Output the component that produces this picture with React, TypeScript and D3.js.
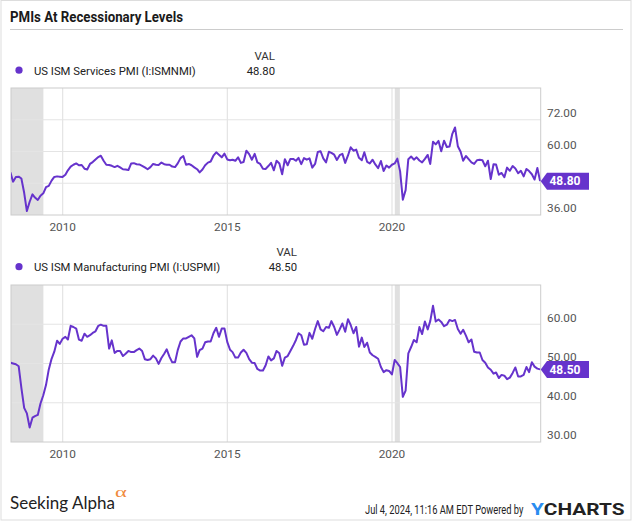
import React from "react";
import * as d3 from "d3";

// ---- data (monthly, May 2008 – Jun 2024, dated at month end) ----
const startYear = 2008;
const startMonthIndex = 4; // May (0-based)

const servicesPMI: number[] = [
  // 2008 May-Dec
  52.1, 48.6, 50.4, 50.5, 49.8, 44.4, 37.5, 41.0,
  // 2009
  43.8, 42.6, 41.7, 43.3, 44.2, 46.5, 47.0, 49.0, 50.4, 50.6, 50.5, 50.4,
  // 2010
  51.2, 52.9, 54.3, 55.0, 55.5, 54.8, 54.9, 53.5, 53.2, 55.3, 56.0, 57.0,
  // 2011
  57.9, 58.4, 56.5, 55.0, 54.9, 54.6, 54.1, 54.6, 54.0, 53.3, 53.2, 53.0,
  // 2012
  55.5, 55.6, 55.2, 55.1, 54.6, 54.0, 53.3, 54.1, 55.3, 55.0, 54.9, 55.8,
  // 2013
  55.2, 55.0, 55.0, 54.3, 54.1, 55.5, 57.5, 58.3, 55.0, 55.3, 54.8, 54.0,
  // 2014
  53.3, 52.1, 53.2, 54.8, 55.8, 56.2, 58.4, 59.7, 58.8, 57.8, 59.2, 57.0,
  // 2015
  56.7, 56.9, 56.5, 57.8, 55.7, 56.0, 60.3, 59.0, 56.9, 59.1, 55.9, 55.3,
  // 2016
  53.5, 53.4, 54.5, 55.7, 52.9, 56.5, 55.5, 51.4, 57.1, 54.8, 57.2, 57.2,
  // 2017
  56.5, 57.6, 55.2, 57.5, 56.9, 57.4, 53.9, 55.3, 59.8, 60.1, 57.4, 55.9,
  // 2018
  59.9, 59.5, 58.8, 56.8, 58.6, 59.1, 55.7, 58.5, 61.6, 60.3, 60.7, 57.6,
  // 2019
  56.7, 59.7, 56.1, 55.5, 56.9, 55.1, 53.7, 56.4, 52.6, 54.7, 53.9, 55.0,
  // 2020
  55.5, 57.3, 52.5, 41.8, 45.4, 57.1, 58.1, 56.9, 57.8, 56.6, 55.9, 57.2,
  // 2021
  58.7, 55.3, 63.7, 62.7, 64.0, 60.1, 64.1, 61.7, 61.9, 66.7, 69.1, 62.0,
  // 2022
  59.9, 56.5, 58.3, 57.1, 55.9, 55.3, 56.7, 56.9, 56.7, 54.4, 56.5, 49.6,
  // 2023
  55.2, 55.1, 51.2, 51.9, 50.3, 53.9, 52.7, 54.5, 53.6, 51.8, 52.7, 50.6,
  // 2024 Jan-Jun
  53.4, 52.6, 51.4, 49.4, 53.8, 48.8,
];

const manufacturingPMI: number[] = [
  // 2008 May-Dec
  50.2, 50.0, 49.8, 49.3, 43.8, 38.7, 37.3, 33.7,
  // 2009
  36.2, 36.6, 36.9, 39.8, 41.9, 44.5, 48.5, 51.2, 53.0, 55.8, 55.0, 56.3,
  // 2010
  56.8, 56.1, 59.6, 59.3, 58.9, 56.1, 55.8, 57.6, 56.8, 57.2, 57.8, 58.2,
  // 2011
  59.6, 59.9, 59.6, 59.6, 53.8, 55.9, 52.7, 53.2, 53.2, 51.9, 52.5, 53.2,
  // 2012
  52.9, 52.9, 53.4, 53.8, 53.2, 51.1, 50.9, 51.1, 52.0, 51.3, 49.9, 51.4,
  // 2013
  52.5, 53.6, 51.7, 50.3, 50.3, 53.4, 55.6, 56.4, 56.4, 56.8, 57.2, 56.4,
  // 2014
  51.7, 53.4, 53.8, 55.4, 55.6, 55.6, 57.7, 59.1, 56.8, 58.9, 58.9, 55.5,
  // 2015
  53.5, 52.9, 51.5, 51.5, 52.8, 53.5, 52.7, 51.1, 50.2, 50.1, 48.6, 48.2,
  // 2016
  48.2, 49.5, 51.8, 50.8, 51.3, 53.2, 52.6, 49.4, 51.5, 51.9, 53.2, 54.5,
  // 2017
  56.0, 57.7, 57.2, 54.8, 54.9, 57.8, 56.3, 58.8, 60.8, 58.7, 58.2, 59.3,
  // 2018
  59.1, 60.8, 59.3, 57.3, 58.7, 60.2, 58.1, 61.3, 59.8, 57.7, 59.3, 54.3,
  // 2019
  56.6, 54.2, 55.3, 52.8, 52.1, 51.7, 51.2, 49.1, 47.8, 48.3, 48.1, 47.2,
  // 2020
  50.9, 50.1, 49.1, 41.5, 43.1, 52.6, 54.2, 56.0, 55.4, 59.3, 57.5, 60.7,
  // 2021
  58.7, 60.8, 64.7, 60.7, 61.2, 60.6, 59.5, 59.9, 61.1, 60.8, 61.1, 58.8,
  // 2022
  57.6, 58.6, 57.1, 55.4, 56.1, 53.0, 52.8, 52.8, 50.9, 50.2, 49.0, 48.4,
  // 2023
  47.4, 47.7, 46.3, 47.1, 46.9, 46.0, 46.4, 47.6, 49.0, 46.7, 46.7, 47.1,
  // 2024 Jan-Jun
  49.1, 47.8, 50.3, 49.2, 48.7, 48.5,
];

const xTickYears = [2010, 2015, 2020];
const servicesTicks = [36, 48, 60, 72];
const manufacturingTicks = [30, 40, 50, 60];
const servicesDomain = [36, 84];
const manufacturingDomain = [30, 70];
const recessionPeriods: [Date, Date][] = [
  [new Date(2007, 11, 1), new Date(2009, 5, 1)],
  [new Date(2020, 1, 1), new Date(2020, 2, 28)],
];

const titleText = "PMIs At Recessionary Levels";
const servicesLabel = "US ISM Services PMI (I:ISMNMI)";
const manufacturingLabel = "US ISM Manufacturing PMI (I:USPMI)";

// ---- styling ----
const PURPLE = "#6633cc";
const GRID = "#e4e4e4";
const BORDER = "#cccccc";
const SHADE = "#e0e0e0";
const AXIS_TEXT = "#555";
const FONT = "Roboto, 'Noto Sans', sans-serif";

const X_LEFT = 11;
const X_RIGHT = 540.7;

const x = d3
  .scaleTime()
  .domain([new Date(2008, 5, 7), new Date(2024, 6, 7)])
  .range([X_LEFT, X_RIGHT]);

function toSeries(values: number[]) {
  return values.map((v, i) => ({
    date: new Date(startYear, startMonthIndex + i + 1, 0),
    value: v,
  }));
}

type PanelProps = {
  id: string;
  top: number;
  bottom: number;
  domain: number[];
  ticks: number[];
  values: number[];
  label: string;
  legendY: number;
  valRight: number;
};

function Panel({ id, top, bottom, domain, ticks, values, label, legendY, valRight }: PanelProps) {
  const y = d3.scaleLinear().domain(domain).range([bottom, top]);
  const series = toSeries(values);
  const line = d3
    .line<{ date: Date; value: number }>()
    .x((d) => x(d.date))
    .y((d) => y(d.value));
  const last = series[series.length - 1];
  const cy = y(last.value);
  const lastText = last.value.toFixed(2);
  const bh = 8.5;
  const badge = `M${X_RIGHT},${cy} L${X_RIGHT + 6.3},${cy - bh} L589,${cy - bh} L589,${cy + bh} L${X_RIGHT + 6.3},${cy + bh} Z`;

  const labelOffset = 2.7;
  // a label whose centre sits behind the value badge is hidden by it
  const visibleTicks = ticks.filter((t) => {
    const centre = y(t) - labelOffset - 4.2;
    return !(centre > cy - bh && centre < cy + bh);
  });

  return (
    <g>
      <defs>
        <clipPath id={id}>
          <rect x={X_LEFT} y={top} width={X_RIGHT - X_LEFT} height={bottom - top} />
        </clipPath>
      </defs>
      {/* legend */}
      <text x={valRight} y={legendY - 15} textAnchor="end" fontSize={11.5} fill="#333" fontFamily={FONT}>
        VAL
      </text>
      <circle cx={19} cy={legendY - 4.3} r={3.6} fill={PURPLE} />
      <text x={34} y={legendY} fontSize={11.3} fill="#222" fontFamily={FONT}>
        {label}
      </text>
      <text x={valRight} y={legendY} textAnchor="end" fontSize={11.3} fill="#222" fontFamily={FONT}>
        {lastText}
      </text>

      {/* recession shading */}
      <g clipPath={`url(#${id})`}>
        {recessionPeriods.map(([a, b], i) => (
          <rect key={i} x={x(a)} y={top} width={x(b) - x(a)} height={bottom - top} fill={SHADE} />
        ))}
      </g>

      {/* grid */}
      {ticks
        .filter((t) => y(t) > top + 1 && y(t) < bottom - 1)
        .map((t) => (
          <line key={t} x1={X_LEFT} x2={X_RIGHT} y1={y(t)} y2={y(t)} stroke={GRID} strokeWidth={1.2} />
        ))}
      {xTickYears.map((yr) => {
        const xx = x(new Date(yr, 0, 1));
        return <line key={yr} x1={xx} x2={xx} y1={top} y2={bottom} stroke={GRID} strokeWidth={1.2} />;
      })}

      {/* border */}
      <rect x={X_LEFT} y={top} width={X_RIGHT - X_LEFT} height={bottom - top} fill="none" stroke={BORDER} strokeWidth={1} />

      {/* line */}
      <path
        d={line(series) || ""}
        fill="none"
        stroke={PURPLE}
        strokeWidth={2}
        strokeLinejoin="round"
        clipPath={`url(#${id})`}
      />

      {/* y labels */}
      {visibleTicks.map((t) => (
        <text key={t} x={547} y={y(t) - labelOffset} fontSize={11.8} fill={AXIS_TEXT} fontFamily={FONT}>
          {t.toFixed(2)}
        </text>
      ))}

      {/* x labels */}
      {xTickYears.map((yr) => (
        <text
          key={yr}
          x={x(new Date(yr, 0, 1))}
          y={bottom + 16}
          textAnchor="middle"
          fontSize={11.8}
          fill={AXIS_TEXT}
          fontFamily={FONT}
        >
          {yr}
        </text>
      ))}

      {/* last value badge */}
      <path d={badge} fill={PURPLE} />
      <text
        x={565}
        y={cy + 4.3}
        textAnchor="middle"
        fontSize={12}
        fontWeight="bold"
        fill="#fff"
        fontFamily={FONT}
      >
        {lastText}
      </text>
    </g>
  );
}

export default function App() {
  return (
    <div style={{ position: "absolute", left: 0, top: 0 }}>
      <svg width={635} height={522} style={{ display: "block", background: "#fff" }}>
        <rect x={1} y={0.5} width={630} height={519.5} fill="#fff" stroke="#dddddd" />
        <text
          x={10}
          y={22}
          fontSize={14}
          fontWeight="bold"
          fill="#1a1a1a"
          fontFamily={FONT}
          textLength={173}
          lengthAdjust="spacingAndGlyphs"
        >
          {titleText}
        </text>
        <line x1={10} x2={623} y1={29.5} y2={29.5} stroke="#cccccc" />

        <Panel
          id="clip-services"
          top={88}
          bottom={215}
          domain={servicesDomain}
          ticks={servicesTicks}
          values={servicesPMI}
          label={servicesLabel}
          legendY={74.5}
          valRight={275}
        />
        <Panel
          id="clip-manufacturing"
          top={285}
          bottom={442}
          domain={manufacturingDomain}
          ticks={manufacturingTicks}
          values={manufacturingPMI}
          label={manufacturingLabel}
          legendY={271}
          valRight={297}
        />

        {/* footer */}
        <text x={10} y={509.3} fontSize={17} fill="#222" fontFamily="Lato, 'Open Sans', sans-serif">
          Seeking Alpha
        </text>
        <text x={115} y={497.5} fontSize={15} fill="#f08a3c" transform="translate(115 497.5) scale(1.5 1) translate(-115 -497.5)" fontFamily="'Liberation Serif', serif">
          α
        </text>
        <text
          transform="translate(365 514) scale(0.745 1)"
          fontSize={12.5}
          fill="#222"
          fontFamily={FONT}
        >
          Jul 4, 2024, 11:16 AM EDT Powered by
        </text>
        <text
          transform="translate(531 515) scale(1.3 1)"
          fontSize={16}
          fontWeight="bold"
          fontFamily={FONT}
        >
          <tspan fill="#2a8cf0">Y</tspan>
          <tspan fill="#222">CHARTS</tspan>
        </text>
      </svg>
    </div>
  );
}
